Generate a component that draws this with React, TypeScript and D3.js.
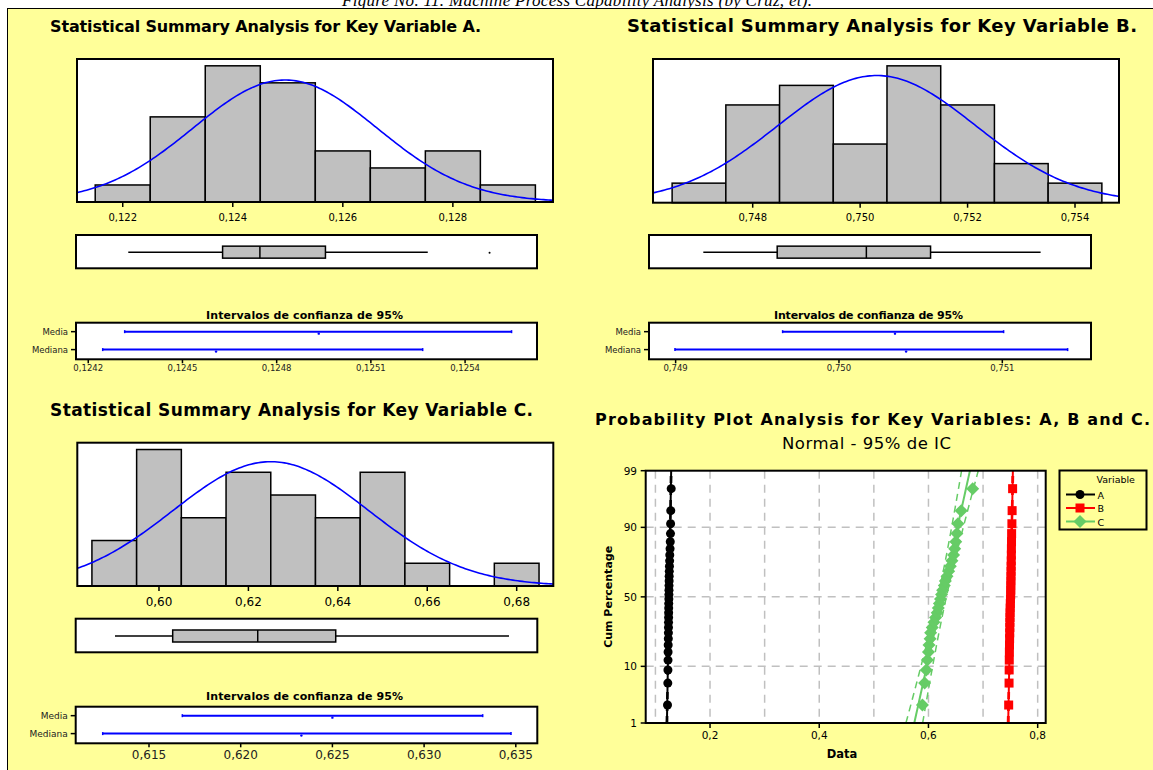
import React from 'react';
import * as d3 from 'd3';

// ================= DATA =================
// Variable A
const A_BIN_CENTERS = [0.122, 0.123, 0.124, 0.125, 0.126, 0.127, 0.128, 0.129];
const A_COUNTS = [1, 5, 8, 7, 3, 2, 3, 1];
const A_BIN_WIDTH = 0.001;
const A_FIT = [0.12495, 0.00167]; // mean, standard deviation
const A_BOX = [0.12215, 0.12392, 0.12462, 0.12585, 0.12777]; // whisker low, Q1, median, Q3, whisker high
const A_OUTLIERS = [0.12893];
const A_CI_MEAN = [0.124316, 0.124934, 0.125548];
const A_CI_MEDIAN = [0.124246, 0.124607, 0.125265];
const A_HIST_DOMAIN = [0.121169, 0.12982];
const A_CI_DOMAIN = [0.124161, 0.125629];
const A_HIST_TICKS = [0.122, 0.124, 0.126, 0.128];
const A_HIST_TICK_LABELS = ['0,122', '0,124', '0,126', '0,128'];
const A_CI_TICKS = [0.1242, 0.1245, 0.1248, 0.1251, 0.1254];
const A_CI_TICK_LABELS = ['0,1242', '0,1245', '0,1248', '0,1251', '0,1254'];
const A_VALUES = [0.1221, 0.1227, 0.1229, 0.1231, 0.1232, 0.1234, 0.1236, 0.1238, 0.1239, 0.1240,
  0.1241, 0.1242, 0.1243, 0.1244, 0.1246, 0.1247, 0.1248, 0.1249, 0.1251, 0.1252,
  0.1254, 0.1257, 0.1260, 0.1263, 0.1268, 0.1272, 0.1276, 0.1278, 0.1281, 0.1289];

// Variable B
const B_BIN_CENTERS = [0.747, 0.748, 0.749, 0.750, 0.751, 0.752, 0.753, 0.754];
const B_COUNTS = [1, 5, 6, 3, 7, 5, 2, 1];
const B_BIN_WIDTH = 0.001;
const B_FIT = [0.75031, 0.00184];
const B_BOX = [0.74721, 0.74866, 0.75041, 0.75167, 0.75383];
const B_OUTLIERS: number[] = [];
const B_CI_MEAN = [0.749655, 0.750343, 0.751008];
const B_CI_MEDIAN = [0.748996, 0.750411, 0.7514];
const B_HIST_DOMAIN = [0.746144, 0.754819];
const B_CI_DOMAIN = [0.748837, 0.751543];
const B_HIST_TICKS = [0.748, 0.75, 0.752, 0.754];
const B_HIST_TICK_LABELS = ['0,748', '0,750', '0,752', '0,754'];
const B_CI_TICKS = [0.749, 0.75, 0.751];
const B_CI_TICK_LABELS = ['0,749', '0,750', '0,751'];
const B_VALUES = [0.7469, 0.7476, 0.7478, 0.7480, 0.7482, 0.7484, 0.7486, 0.7488, 0.7490, 0.7491,
  0.7493, 0.7494, 0.7497, 0.7499, 0.7502, 0.7506, 0.7507, 0.7508, 0.7510, 0.7511,
  0.7513, 0.7514, 0.7516, 0.7518, 0.7519, 0.7521, 0.7523, 0.7528, 0.7532, 0.7541];

// Variable C
const C_BIN_CENTERS = [0.59, 0.60, 0.61, 0.62, 0.63, 0.64, 0.65, 0.66, 0.67, 0.68];
const C_COUNTS = [2, 6, 3, 5, 4, 3, 5, 1, 0, 1];
const C_BIN_WIDTH = 0.01;
const C_FIT = [0.62501, 0.0219];
const C_BOX = [0.59079, 0.6041, 0.62371, 0.6417, 0.68166];
const C_OUTLIERS: number[] = [];
const C_CI_MEAN = [0.616816, 0.625, 0.633195];
const C_CI_MEDIAN = [0.612475, 0.623309, 0.634738];
const C_HIST_DOMAIN = [0.58173, 0.68819];
const C_CI_DOMAIN = [0.611003, 0.636172];
const C_HIST_TICKS = [0.60, 0.62, 0.64, 0.66, 0.68];
const C_HIST_TICK_LABELS = ['0,60', '0,62', '0,64', '0,66', '0,68'];
const C_CI_TICKS = [0.615, 0.62, 0.625, 0.63, 0.635];
const C_CI_TICK_LABELS = ['0,615', '0,620', '0,625', '0,630', '0,635'];
const C_VALUES = [0.589, 0.593, 0.596, 0.598, 0.600, 0.601, 0.603, 0.604, 0.607, 0.610,
  0.613, 0.616, 0.618, 0.620, 0.622, 0.624, 0.626, 0.629, 0.631, 0.634,
  0.637, 0.640, 0.643, 0.646, 0.648, 0.650, 0.652, 0.654, 0.660, 0.681];

// Probability plot
const PROB_X_DOMAIN = [0.0822, 0.8147];
const PROB_X_TICKS = [0.2, 0.4, 0.6, 0.8];
const PROB_X_TICK_LABELS = ['0,2', '0,4', '0,6', '0,8'];
const PROB_X_GRID = [0.1, 0.2, 0.3, 0.4, 0.5, 0.6, 0.7, 0.8];
const PROB_Y_TICKS = [1, 10, 50, 90, 99];
const PROB_Y_GRID = [10, 50, 90];
const SERIES_NAMES = ['A', 'B', 'C'];

// ================= HELPERS =================
function invNorm(p: number): number {
  const a = [-3.969683028665376e1, 2.209460984245205e2, -2.759285104469687e2, 1.38357751867269e2, -3.066479806614716e1, 2.506628277459239];
  const b = [-5.447609879822406e1, 1.615858368580409e2, -1.556989798598866e2, 6.680131188771972e1, -1.328068155288572e1];
  const c = [-7.784894002430293e-3, -3.223964580411365e-1, -2.400758277161838, -2.549732539343734, 4.374664141464968, 2.938163982698783];
  const d = [7.784695709041462e-3, 3.224671290700398e-1, 2.445134137142996, 3.754408661907416];
  const pl = 0.02425;
  let q, r;
  if (p < pl) {
    q = Math.sqrt(-2 * Math.log(p));
    return (((((c[0] * q + c[1]) * q + c[2]) * q + c[3]) * q + c[4]) * q + c[5]) / ((((d[0] * q + d[1]) * q + d[2]) * q + d[3]) * q + 1);
  } else if (p <= 1 - pl) {
    q = p - 0.5; r = q * q;
    return (((((a[0] * r + a[1]) * r + a[2]) * r + a[3]) * r + a[4]) * r + a[5]) * q / (((((b[0] * r + b[1]) * r + b[2]) * r + b[3]) * r + b[4]) * r + 1);
  } else {
    q = Math.sqrt(-2 * Math.log(1 - p));
    return -(((((c[0] * q + c[1]) * q + c[2]) * q + c[3]) * q + c[4]) * q + c[5]) / ((((d[0] * q + d[1]) * q + d[2]) * q + d[3]) * q + 1);
  }
}

const FONT = '"DejaVu Sans", Verdana, sans-serif';
const BLUE = '#0000FF';
const GRAY = '#C0C0C0';
const YELLOW = '#FFFF99';

type PanelLayout = {
  id: string;
  title: string; titleX: number; titleY: number; titleLen: number; titleSize: number;
  hist: number[]; // x0,x1,y0,y1
  histLabelY: number; histLabelSize: number;
  box: number[];
  ciTitleX: number; ciTitleY: number; ciTitleLen: number;
  ci: number[];
  ciLabelY: number; ciLabelSize: number; rowLabelSize: number;
};

type PanelData = {
  centers: number[]; counts: number[]; bw: number; fit: number[]; box: number[]; outliers: number[];
  ciMean: number[]; ciMedian: number[]; histDomain: number[]; ciDomain: number[];
  histTicks: number[]; histTickLabels: string[]; ciTicks: number[]; ciTickLabels: string[];
};

function SummaryPanel({ L, D }: { L: PanelLayout; D: PanelData }) {
  const [hx0, hx1, hy0, hy1] = L.hist;
  const x = d3.scaleLinear().domain(D.histDomain).range([hx0, hx1]);
  const n = d3.sum(D.counts);
  const y = d3.scaleLinear().domain([0, (d3.max(D.counts) as number) * 1.05]).range([hy1, hy0]);
  const [mu, sd] = D.fit;
  const pdf = (v: number) => n * D.bw * Math.exp(-0.5 * ((v - mu) / sd) ** 2) / (sd * Math.sqrt(2 * Math.PI));
  const curvePts = d3.range(0, 201).map(i => {
    const v = D.histDomain[0] + (D.histDomain[1] - D.histDomain[0]) * i / 200;
    return [x(v), y(pdf(v))] as [number, number];
  });
  const line = d3.line();

  const [bx0, bx1, by0, by1] = L.box;
  const xb = d3.scaleLinear().domain(D.histDomain).range([bx0, bx1]);
  const bcy = (by0 + by1) / 2 + 0.5;
  const bh = 6;

  const [cx0, cx1, cy0, cy1] = L.ci;
  const xc = d3.scaleLinear().domain(D.ciDomain).range([cx0, cx1]);
  const rowMedia = cy0 + (cy1 - cy0) * 0.245;
  const rowMediana = cy0 + (cy1 - cy0) * 0.735;

  const ciRow = (vals: number[], ry: number, key: string) => (
    <g key={key}>
      <line x1={xc(vals[0])} x2={xc(vals[2])} y1={ry} y2={ry} stroke={BLUE} strokeWidth={2} />
      <line x1={xc(vals[0])} x2={xc(vals[0])} y1={ry - 1.5} y2={ry + 1.5} stroke={BLUE} strokeWidth={1.5} />
      <line x1={xc(vals[2])} x2={xc(vals[2])} y1={ry - 1.5} y2={ry + 1.5} stroke={BLUE} strokeWidth={1.5} />
      <circle cx={xc(vals[1])} cy={ry + 2} r={1.2} fill={BLUE} />
    </g>
  );

  return (
    <g>
      <text x={L.titleX} y={L.titleY} fontFamily={FONT} fontWeight="bold" fontSize={L.titleSize}
        textLength={L.titleLen} lengthAdjust="spacing" fill="#000">{L.title}</text>
      {/* histogram */}
      <defs>
        <clipPath id={`clip-${L.id}`}><rect x={hx0} y={hy0} width={hx1 - hx0} height={hy1 - hy0} /></clipPath>
      </defs>
      <rect x={hx0} y={hy0} width={hx1 - hx0} height={hy1 - hy0} fill="#fff" />
      {D.centers.map((c, i) => D.counts[i] > 0 && (
        <rect key={i} x={x(c - D.bw / 2)} y={y(D.counts[i])} width={x(c + D.bw / 2) - x(c - D.bw / 2)}
          height={hy1 - y(D.counts[i])} fill={GRAY} stroke="#000" strokeWidth={1.5} />
      ))}
      <path d={line(curvePts) as string} fill="none" stroke={BLUE} strokeWidth={1.6} clipPath={`url(#clip-${L.id})`} />
      <rect x={hx0} y={hy0} width={hx1 - hx0} height={hy1 - hy0} fill="none" stroke="#000" strokeWidth={2} />
      {D.histTicks.map((t, i) => (
        <g key={i}>
          <line x1={x(t)} x2={x(t)} y1={hy1} y2={hy1 + 5} stroke="#000" strokeWidth={1.5} />
          <text x={x(t)} y={L.histLabelY} textAnchor="middle" fontFamily={FONT} fontSize={L.histLabelSize} fill="#000">{D.histTickLabels[i]}</text>
        </g>
      ))}
      {/* boxplot */}
      <rect x={bx0} y={by0} width={bx1 - bx0} height={by1 - by0} fill="#fff" stroke="#000" strokeWidth={2} />
      <line x1={xb(D.box[0])} x2={xb(D.box[1])} y1={bcy} y2={bcy} stroke="#000" strokeWidth={1.5} />
      <line x1={xb(D.box[3])} x2={xb(D.box[4])} y1={bcy} y2={bcy} stroke="#000" strokeWidth={1.5} />
      <rect x={xb(D.box[1])} y={bcy - bh} width={xb(D.box[3]) - xb(D.box[1])} height={bh * 2} fill={GRAY} stroke="#000" strokeWidth={1.5} />
      <line x1={xb(D.box[2])} x2={xb(D.box[2])} y1={bcy - bh} y2={bcy + bh} stroke="#000" strokeWidth={1.5} />
      {D.outliers.map((o, i) => <circle key={i} cx={xb(o)} cy={bcy + 0.5} r={1} fill="#000" />)}
      {/* CI */}
      <text x={L.ciTitleX} y={L.ciTitleY} fontFamily={FONT} fontWeight="bold" fontSize={11}
        textLength={L.ciTitleLen} lengthAdjust="spacing" fill="#000">Intervalos de confianza de 95%</text>
      <rect x={cx0} y={cy0} width={cx1 - cx0} height={cy1 - cy0} fill="#fff" stroke="#000" strokeWidth={2} />
      {ciRow(D.ciMean, rowMedia, 'm')}
      {ciRow(D.ciMedian, rowMediana, 'md')}
      {[['Media', rowMedia], ['Mediana', rowMediana]].map(([lab, ry]) => (
        <g key={lab as string}>
          <line x1={cx0 - 5} x2={cx0} y1={ry as number} y2={ry as number} stroke="#000" strokeWidth={1.5} />
          <text x={cx0 - 8} y={(ry as number) + 3} textAnchor="end" fontFamily={FONT} fontSize={L.rowLabelSize} fill="#222">{lab}</text>
        </g>
      ))}
      {D.ciTicks.map((t, i) => (
        <g key={i}>
          <line x1={xc(t)} x2={xc(t)} y1={cy1} y2={cy1 + 4} stroke="#000" strokeWidth={1.5} />
          <text x={xc(t)} y={L.ciLabelY} textAnchor="middle" fontFamily={FONT} fontSize={L.ciLabelSize} fill="#222">{D.ciTickLabels[i]}</text>
        </g>
      ))}
    </g>
  );
}

function Marker({ type, cx, cy, color }: { type: string; cx: number; cy: number; color: string }) {
  if (type === 'A') return <circle cx={cx} cy={cy} r={4.5} fill={color} />;
  if (type === 'B') return <rect x={cx - 4.5} y={cy - 4.5} width={9} height={9} fill={color} />;
  return <path d={`M${cx},${cy - 6.5}L${cx + 6.5},${cy}L${cx},${cy + 6.5}L${cx - 6.5},${cy}Z`} fill={color} />;
}

function ProbPlot() {
  const X0 = 645.7, X1 = 1045.7, Y0 = 470.7, Y1 = 723;
  const zMax = invNorm(0.99);
  const x = d3.scaleLinear().domain(PROB_X_DOMAIN).range([X0, X1]);
  const yz = d3.scaleLinear().domain([-zMax, zMax]).range([Y1, Y0]);
  const yp = (p: number) => yz(invNorm(p / 100));
  const series = [
    { name: 'A', values: A_VALUES, fit: A_FIT, color: '#000000' },
    { name: 'B', values: B_VALUES, fit: B_FIT, color: '#FF0000' },
    { name: 'C', values: C_VALUES, fit: C_FIT, color: '#66CC66' },
  ];
  const zs = d3.range(0, 61).map(i => -zMax + (2 * zMax) * i / 60);
  const line = d3.line();
  return (
    <g>
      <text x={595} y={425} fontFamily={FONT} fontWeight="bold" fontSize={16} textLength={555} lengthAdjust="spacing" fill="#000">
        Probability Plot Analysis for Key Variables: A, B and C.
      </text>
      <text x={866.5} y={449.3} textAnchor="middle" fontFamily={FONT} fontSize={16.5} textLength={169} lengthAdjust="spacing" fill="#000">
        Normal - 95% de IC
      </text>
      <defs>
        <clipPath id="clip-prob"><rect x={X0} y={Y0} width={X1 - X0} height={Y1 - Y0} /></clipPath>
      </defs>
      <rect x={X0} y={Y0} width={X1 - X0} height={Y1 - Y0} fill="#fff" />
      {PROB_X_GRID.map(g => (
        <line key={g} x1={x(g)} x2={x(g)} y1={Y0} y2={Y1} stroke={GRAY} strokeWidth={1.5} strokeDasharray="8,6" />
      ))}
      {PROB_Y_GRID.map(g => (
        <line key={g} x1={X0} x2={X1} y1={yp(g)} y2={yp(g)} stroke={GRAY} strokeWidth={1.5} strokeDasharray="8,6" />
      ))}
      <g clipPath="url(#clip-prob)">
        {series.map(s => {
          const [mu, sd] = s.fit;
          const n = s.values.length;
          const fitPts = zs.map(z => [x(mu + z * sd), yz(z)] as [number, number]);
          const se = (z: number) => 1.96 * sd * Math.sqrt(1 / n + (z * z) / (2 * (n - 1)));
          const lo = zs.map(z => [x(mu + z * sd - se(z)), yz(z)] as [number, number]);
          const hi = zs.map(z => [x(mu + z * sd + se(z)), yz(z)] as [number, number]);
          const sorted = [...s.values].sort((a, b) => a - b);
          return (
            <g key={s.name}>
              <path d={line(lo) as string} fill="none" stroke={s.color} strokeWidth={1.5} strokeDasharray="7,5" />
              <path d={line(hi) as string} fill="none" stroke={s.color} strokeWidth={1.5} strokeDasharray="7,5" />
              <path d={line(fitPts) as string} fill="none" stroke={s.color} strokeWidth={2} />
              {sorted.map((v, i) => (
                <Marker key={i} type={s.name} cx={x(v)} cy={yz(invNorm((i + 1 - 0.3) / (n + 0.4)))} color={s.color} />
              ))}
            </g>
          );
        })}
      </g>
      <rect x={X0} y={Y0} width={X1 - X0} height={Y1 - Y0} fill="none" stroke="#000" strokeWidth={2} />
      {PROB_X_TICKS.map((t, i) => (
        <g key={t}>
          <line x1={x(t)} x2={x(t)} y1={Y1} y2={Y1 + 5} stroke="#000" strokeWidth={1.5} />
          <text x={x(t)} y={738.5} textAnchor="middle" fontFamily={FONT} fontSize={10.5} fill="#000">{PROB_X_TICK_LABELS[i]}</text>
        </g>
      ))}
      {PROB_Y_TICKS.map(t => (
        <g key={t}>
          <line x1={X0 - 5} x2={X0} y1={yp(t)} y2={yp(t)} stroke="#000" strokeWidth={1.5} />
          <text x={637} y={yp(t) + 4} textAnchor="end" fontFamily={FONT} fontSize={10.5} fill="#000">{t}</text>
        </g>
      ))}
      <text x={842} y={758} textAnchor="middle" fontFamily={FONT} fontWeight="bold" fontSize={11.5} fill="#000">Data</text>
      <text transform={`translate(612, ${(Y0 + Y1) / 2}) rotate(-90)`} textAnchor="middle" fontFamily={FONT} fontWeight="bold" fontSize={11} fill="#000">Cum Percentage</text>
      {/* legend */}
      <rect x={1059.5} y={470.5} width={87} height={59} fill="none" stroke="#000" strokeWidth={2} />
      <text x={1096.5} y={483} fontFamily={FONT} fontSize={9.5} fill="#000">Variable</text>
      {series.map((s, i) => {
        const ly = 494.5 + i * 13.5;
        return (
          <g key={s.name}>
            <line x1={1066} x2={1095} y1={ly} y2={ly} stroke={s.color} strokeWidth={2} />
            <Marker type={s.name} cx={1080} cy={ly} color={s.color} />
            <text x={1097.5} y={ly + 4} fontFamily={FONT} fontSize={9.5} fill="#000">{SERIES_NAMES[i]}</text>
          </g>
        );
      })}
    </g>
  );
}

const LAYOUT_A: PanelLayout = {
  id: 'a', title: 'Statistical Summary Analysis for Key Variable A.', titleX: 50, titleY: 32, titleLen: 431, titleSize: 16,
  hist: [77, 553, 59, 202], histLabelY: 221, histLabelSize: 10,
  box: [76, 537, 235, 268.3],
  ciTitleX: 206, ciTitleY: 319, ciTitleLen: 197,
  ci: [76, 537, 322.7, 359.3], ciLabelY: 371, ciLabelSize: 8.5, rowLabelSize: 8.5,
};
const LAYOUT_B: PanelLayout = {
  id: 'b', title: 'Statistical Summary Analysis for Key Variable B.', titleX: 627, titleY: 32, titleLen: 510, titleSize: 18,
  hist: [653, 1119, 59, 202.7], histLabelY: 221, histLabelSize: 10,
  box: [649, 1091, 235, 268.3],
  ciTitleX: 774, ciTitleY: 319, ciTitleLen: 189,
  ci: [649, 1091, 322.7, 359.3], ciLabelY: 371, ciLabelSize: 8.5, rowLabelSize: 8.5,
};
const LAYOUT_C: PanelLayout = {
  id: 'c', title: 'Statistical Summary Analysis for Key Variable C.', titleX: 50, titleY: 415.7, titleLen: 483, titleSize: 17,
  hist: [77.3, 553.3, 442.7, 586], histLabelY: 606, histLabelSize: 12,
  box: [75.7, 537.3, 618.7, 652.3],
  ciTitleX: 206, ciTitleY: 700, ciTitleLen: 197,
  ci: [75.7, 537.3, 706.7, 743.3], ciLabelY: 758.5, ciLabelSize: 12, rowLabelSize: 9,
};

const DATA_A: PanelData = {
  centers: A_BIN_CENTERS, counts: A_COUNTS, bw: A_BIN_WIDTH, fit: A_FIT, box: A_BOX, outliers: A_OUTLIERS,
  ciMean: A_CI_MEAN, ciMedian: A_CI_MEDIAN, histDomain: A_HIST_DOMAIN, ciDomain: A_CI_DOMAIN,
  histTicks: A_HIST_TICKS, histTickLabels: A_HIST_TICK_LABELS, ciTicks: A_CI_TICKS, ciTickLabels: A_CI_TICK_LABELS,
};
const DATA_B: PanelData = {
  centers: B_BIN_CENTERS, counts: B_COUNTS, bw: B_BIN_WIDTH, fit: B_FIT, box: B_BOX, outliers: B_OUTLIERS,
  ciMean: B_CI_MEAN, ciMedian: B_CI_MEDIAN, histDomain: B_HIST_DOMAIN, ciDomain: B_CI_DOMAIN,
  histTicks: B_HIST_TICKS, histTickLabels: B_HIST_TICK_LABELS, ciTicks: B_CI_TICKS, ciTickLabels: B_CI_TICK_LABELS,
};
const DATA_C: PanelData = {
  centers: C_BIN_CENTERS, counts: C_COUNTS, bw: C_BIN_WIDTH, fit: C_FIT, box: C_BOX, outliers: C_OUTLIERS,
  ciMean: C_CI_MEAN, ciMedian: C_CI_MEDIAN, histDomain: C_HIST_DOMAIN, ciDomain: C_CI_DOMAIN,
  histTicks: C_HIST_TICKS, histTickLabels: C_HIST_TICK_LABELS, ciTicks: C_CI_TICKS, ciTickLabels: C_CI_TICK_LABELS,
};

export default function App() {
  return (
    <svg width={1153} height={770} viewBox="0 0 1153 770"
      style={{ position: 'absolute', left: 0, top: 0, display: 'block', background: '#fff' }}>
      <text x={577} y={5.5} textAnchor="middle" fontFamily='"Liberation Serif", serif' fontStyle="italic" fontSize={17}
        textLength={470} lengthAdjust="spacing" fill="#000">
        Figure No. 11. Machine Process Capability Analysis (by Cruz, et).
      </text>
      <rect x={7.5} y={8.5} width={1160} height={800} fill={YELLOW} stroke="#000" strokeWidth={1} />
      <SummaryPanel L={LAYOUT_A} D={DATA_A} />
      <SummaryPanel L={LAYOUT_B} D={DATA_B} />
      <SummaryPanel L={LAYOUT_C} D={DATA_C} />
      <ProbPlot />
    </svg>
  );
}
